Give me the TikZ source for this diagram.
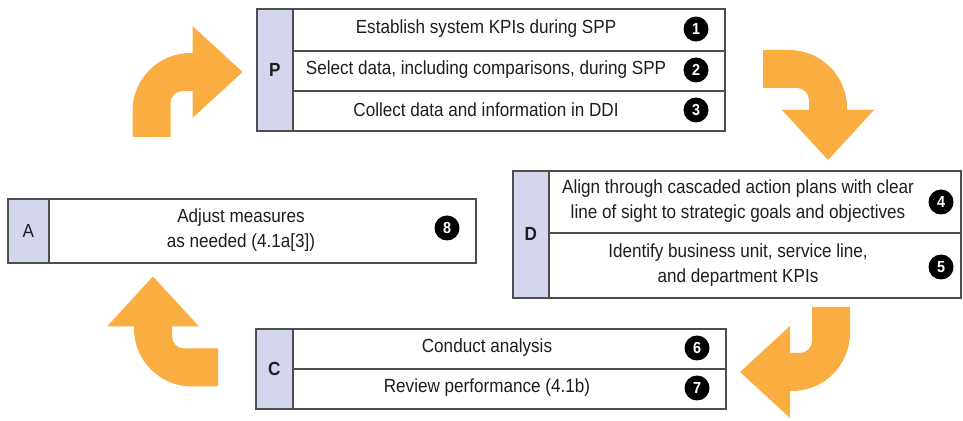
\documentclass[tikz,border=0pt]{standalone}
\usepackage{fontspec}
\setmainfont[FakeStretch=0.9]{Liberation Sans}
\usepackage{xcolor}
\usepackage{tikz}
\usetikzlibrary{positioning}
\definecolor{phasefill}{RGB}{212,214,238}
\definecolor{boxline}{RGB}{78,78,78}
\definecolor{arrowfill}{RGB}{250,174,66}
\definecolor{textgray}{RGB}{30,30,30}
\tikzset{
phase/.style = { rectangle, draw = boxline, fill = phasefill, line width = 1.6pt, inner sep = 0pt, anchor = north west, text = textgray, font = \fontsize{19}{24}\selectfont },
rowbox/.style = { rectangle, draw = boxline, fill = white, line width = 1.6pt, inner sep = 0pt, anchor = north west },
steptext/.style = { align = center, text = textgray, inner sep = 0pt, font = \fontsize{19}{25}\selectfont },
num/.style = { circle, fill = black, text = white, minimum size = 25pt, inner sep = 0pt, font = \fontsize{16}{16}\selectfont\bfseries },
}
\tikzset{
pics/turn arrow/.style = {
        code = {
        % \path[fill = arrowfill] (-19, 0) -- (-19, 26) arc (180:90:58) -- (41, 84) -- (41, 111) -- (91, 65) -- (41, 19) -- (41, 46) -- (39, 46) arc (90:180:20) -- (19, 0) -- cycle;
        \path[fill = arrowfill] (-19, 0) -- (-19, 26) arc (180:90:58) -- (41, 84) -- (41, 111) -- (91, 65) -- (41, 19) -- (41, 46) -- (31, 46) arc (90:180:12) -- (19, 0) -- cycle;
        }
    }
}
\begin{document}
\begin{tikzpicture}[x = 1pt, y = 1pt]
      \useasboundingbox[fill = white] (0, 0) rectangle (963, 420);
      % arrows
      \draw (151.5, 283) pic{turn arrow};
      \draw (763, 351) pic[rotate = -90]{turn arrow};
      \draw (831, 113) pic[rotate = 180]{turn arrow};
      \draw (218, 52.5) pic[rotate = 90]{turn arrow};
      % P
      \node[phase, minimum width = 36pt, minimum height = 122pt, font = \fontsize{19}{24}\selectfont\bfseries] (phaseP) at (256, 412) {P};
      \node[rowbox, minimum width = 432pt, minimum height = 42pt] (rowP1) at (292, 412) {};
      \node[rowbox, minimum width = 432pt, minimum height = 40pt] (rowP2) at (292, 370) {};
      \node[rowbox, minimum width = 432pt, minimum height = 40pt] (rowP3) at (292, 330) {};
      \node[steptext] (textP1) at (486, 391) {Establish system KPIs during SPP};
      \node[steptext] (textP2) at (486, 350) {Select data, including comparisons, during SPP};
      \node[steptext] (textP3) at (486, 310) {Collect data and information in DDI};
      \node[num] (num1) at (696, 391) {1};
      \node[num] (num2) at (696, 350) {2};
      \node[num] (num3) at (696, 310) {3};
      % D
      \node[phase, minimum width = 36pt, minimum height = 127pt, font = \fontsize{19}{24}\selectfont\bfseries] (phaseD) at (512, 250) {D};
      \node[rowbox, minimum width = 412pt, minimum height = 62pt] (rowD1) at (548, 250) {};
      \node[rowbox, minimum width = 412pt, minimum height = 65pt] (rowD2) at (548, 188) {};
      \node[steptext] (textD1) at (738, 219) {Align through cascaded action plans with clear\\line of sight to strategic goals and objectives};
      \node[steptext] (textD2) at (738, 155) {Identify business unit, service line,\\and department KPIs};
      \node[num] (num4) at (941, 218) {4};
      \node[num] (num5) at (941, 153) {5};
      % C
      \node[phase, minimum width = 37pt, minimum height = 80pt, font = \fontsize{19}{24}\selectfont\bfseries] (phaseC) at (255, 92) {C};
      \node[rowbox, minimum width = 433pt, minimum height = 40pt] (rowC1) at (292, 92) {};
      \node[rowbox, minimum width = 433pt, minimum height = 40pt] (rowC2) at (292, 52) {};
      \node[steptext] (textC1) at (487, 72) {Conduct analysis};
      \node[steptext] (textC2) at (487, 32) {Review performance (4.1b)};
      \node[num] (num6) at (697, 72) {6};
      \node[num] (num7) at (697, 32) {7};
      % A
      \node[phase, minimum width = 41pt, minimum height = 64pt] (phaseA) at (7, 222) {A};
      \node[rowbox, minimum width = 427pt, minimum height = 64pt] (rowA1) at (48, 222) {};
      \node[steptext] (textA1) at (241, 190) {Adjust measures\\as needed (4.1a[3])};
      \node[num] (num8) at (447, 192) {8};
\end{tikzpicture}
\end{document}
